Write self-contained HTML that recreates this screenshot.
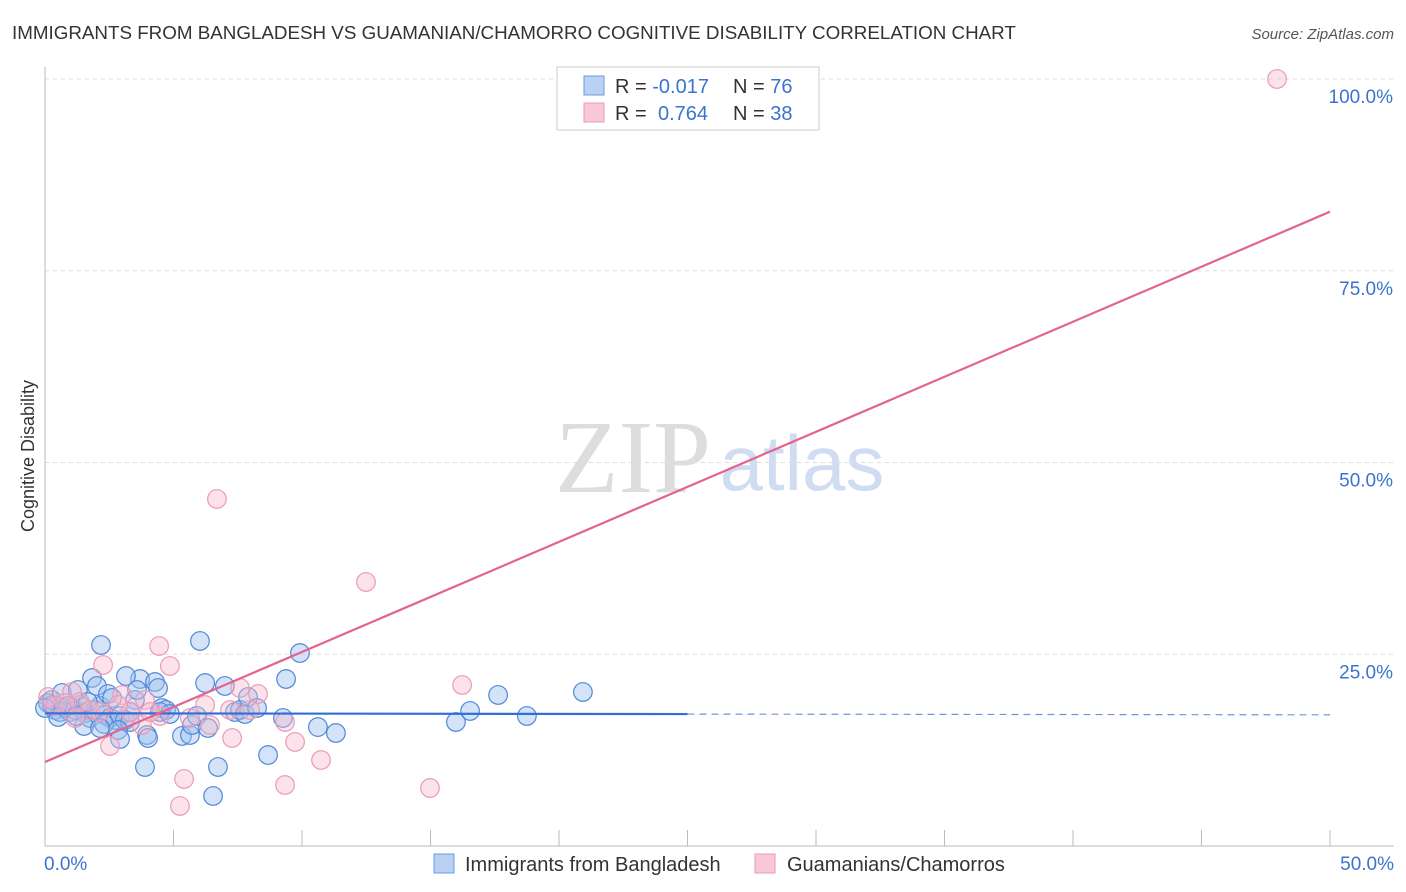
<!DOCTYPE html>
<html><head><meta charset="utf-8"><style>
body{margin:0;background:#fff;font-family:"Liberation Sans",sans-serif}
svg{display:block}
</style></head><body>
<svg id="c" width="1406" height="892">
<text x="12" y="39" font-size="18.8" fill="#333">IMMIGRANTS FROM BANGLADESH VS GUAMANIAN/CHAMORRO COGNITIVE DISABILITY CORRELATION CHART</text>
<text x="1394" y="39" font-size="15" fill="#555" font-style="italic" text-anchor="end">Source: ZipAtlas.com</text>
<text x="34" y="456" font-size="18" fill="#333" text-anchor="middle" transform="rotate(-90 34 456)">Cognitive Disability</text>
<text x="633" y="492" font-size="104" fill="#ddd" font-family="Liberation Serif,serif" text-anchor="middle">ZIP</text>
<text x="802" y="490" font-size="78" fill="#cfdcf2" text-anchor="middle">atlas</text>
<g id="grid"></g><g id="pts"></g><g id="lines"></g>
<g>
<rect x="557" y="67" width="262" height="63" fill="#fff" stroke="#ccc"/>
<rect x="584" y="76" width="20" height="19" fill="#b9d1f3" stroke="#6a9be0"/>
<rect x="584" y="103" width="20" height="19" fill="#f9c8d6" stroke="#ea9ab2"/>
<text x="615" y="93" font-size="20" fill="#333">R = <tspan fill="#3a74d0">-0.017</tspan><tspan x="733">N = </tspan><tspan fill="#3a74d0">76</tspan></text>
<text x="615" y="120" font-size="20" fill="#333">R = <tspan x="658" fill="#3a74d0">0.764</tspan><tspan x="733">N = </tspan><tspan fill="#3a74d0">38</tspan></text>
</g>
<g>
<rect x="434" y="854" width="20" height="19" fill="#b9d1f3" stroke="#6a9be0"/>
<text x="465" y="871" font-size="20" fill="#333">Immigrants from Bangladesh</text>
<rect x="755" y="854" width="20" height="19" fill="#f9c8d6" stroke="#ea9ab2"/>
<text x="787" y="871" font-size="20" fill="#333">Guamanians/Chamorros</text>
</g>
</svg>
<script>
const blueX=[0.12,0.27,0.39,0.58,0.78,0.97,1.17,1.36,1.56,1.75,1.95,2.14,2.33,2.53,2.72,2.92,3.11,3.31,0.27,0.66,1.28,1.83,2.02,2.18,2.45,1.52,2.30,2.84,2.92,3.50,3.70,3.15,3.58,3.97,4.01,4.28,4.40,4.55,4.71,3.89,5.33,5.64,5.72,5.91,6.03,6.23,6.34,6.73,6.54,7.00,7.39,7.59,7.78,7.90,8.25,8.68,9.26,9.38,9.92,10.62,11.32,15.99,16.54,17.63,18.75,20.93,4.47,2.61,0.89,0.51,1.67,3.31,4.86,1.21,2.14,0];
const blueY=[18.64,18.38,17.73,17.47,17.99,17.47,17.73,18.38,17.34,16.69,17.73,18.25,17.08,16.69,16.43,16.95,16.43,16.17,19.04,19.95,20.34,21.90,20.86,26.21,19.82,15.65,15.91,15.12,13.95,19.04,21.77,22.16,20.34,14.47,14.08,21.38,20.60,17.99,17.73,10.30,14.34,14.47,15.78,16.95,26.73,21.25,15.38,10.30,6.52,20.86,17.47,17.73,17.21,19.43,17.99,11.86,16.69,21.77,25.16,15.51,14.73,16.17,17.60,19.69,16.95,20.08,17.47,19.30,18.25,16.82,18.77,17.47,17.21,16.95,15.38,17.99];
const pinkX=[47.94,6.69,12.49,4.44,4.86,2.26,16.23,7.59,8.29,6.23,7.20,7.98,9.34,9.73,7.28,10.74,9.34,14.98,5.41,5.25,2.53,3.77,3.89,3.00,1.05,1.36,0.12,0.39,1.75,2.14,3.31,4.47,5.64,0.78,2.84,4.09,6.42,1.17];
const pinkY=[100,45.24,34.42,26.08,23.47,23.60,20.99,20.60,19.82,18.38,17.73,17.73,16.17,13.56,14.08,11.21,7.95,7.56,8.74,5.22,13.04,15.78,19.04,19.69,20.08,18.77,19.43,18.25,17.73,17.47,17.47,16.95,16.69,18.64,18.38,17.47,15.78,16.69];
const yTicks=[25,50,75,100];
const xTicks=[0,5,10,15,20,25,30,35,40,45,50];
const blueFit=[17.3,17.1];
const pinkFit=[10.95,82.7];
const sx=v=>45+v*25.7, sy=v=>846-v*7.67;
const NS='http://www.w3.org/2000/svg';
function mk(p,t,a){const e=document.createElementNS(NS,t);for(const k in a)e.setAttribute(k,a[k]);p.appendChild(e);return e;}
const g=document.getElementById('grid');
yTicks.forEach(t=>{
 const l=mk(g,'line',{x1:45,x2:1394,y1:sy(t),y2:sy(t),stroke:'#ddd','stroke-dasharray':'4,4'});
 
 
 const tx=mk(g,'text',{x:1393,y:sy(t)+24,'font-size':19,fill:'#3a74d0','text-anchor':'end'});
 tx.textContent=t.toFixed(1)+'%';
 
 
});
const ax=mk(g,'line',{x1:45,x2:45,y1:67,y2:846,stroke:'#bbb'});


const bx=mk(g,'line',{x1:45,x2:1394,y1:846,y2:846,stroke:'#bbb'});


xTicks.forEach(t=>{
 const l=mk(g,'line',{x1:sx(t),x2:sx(t),y1:830,y2:846,stroke:'#bbb'});
 
 
});
[[0,'start'],[50,'end']].forEach(([t,a])=>{
 const tx=mk(g,'text',{x:t==0?44:1394,y:870,'font-size':19,fill:'#3a74d0','text-anchor':a});
 tx.textContent=t.toFixed(1)+'%';
 
 
});
const p=document.getElementById('pts');
blueX.forEach((x,i)=>{
 const c=mk(p,'circle',{cx:sx(x),cy:sy(blueY[i]),r:9.3,fill:'rgba(160,192,240,0.45)',stroke:'#4f88d8','stroke-width':1.2});
 
 
});
pinkX.forEach((x,i)=>{
 const c=mk(p,'circle',{cx:sx(x),cy:sy(pinkY[i]),r:9.3,fill:'rgba(248,185,205,0.4)',stroke:'#eb9ab4','stroke-width':1.2});
 
 
});
const L=document.getElementById('lines');
const bm=blueFit[0]+(blueFit[1]-blueFit[0])*0.5;
const b1=mk(L,'line',{x1:sx(0),y1:sy(blueFit[0]),x2:sx(25),y2:sy(bm),stroke:'#2f6fd6','stroke-width':2.2});


const b2=mk(L,'line',{x1:sx(25),y1:sy(bm),x2:sx(50),y2:sy(blueFit[1]),stroke:'#6d97d8','stroke-width':1.2,'stroke-dasharray':'7,5'});


const pl=mk(L,'line',{x1:sx(0),y1:sy(pinkFit[0]),x2:sx(50),y2:sy(pinkFit[1]),stroke:'#e2648f','stroke-width':2.2});


</script>
</body></html>
